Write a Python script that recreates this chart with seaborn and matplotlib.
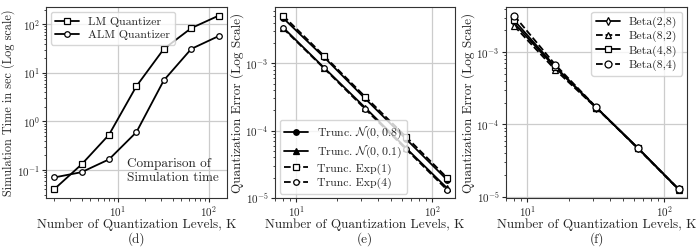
import numpy as np
import matplotlib
matplotlib.use('Agg')
import matplotlib.pyplot as plt
import seaborn as sns

# данные
k_time = [2, 4, 8, 16, 32, 64, 128]
lm_time = [0.04, 0.13, 0.53, 5.3, 31, 83, 150]
alm_time = [0.07, 0.09, 0.165, 0.6, 7.0, 31, 57]

k_err = [8, 16, 32, 64, 128]
norm_08 = [4.7e-3, 1.23e-3, 3.0e-4, 7.5e-5, 1.86e-5]
norm_01 = [3.4e-3, 8.6e-4, 2.2e-4, 5.5e-5, 1.40e-5]
exp_1 = [5.1e-3, 1.29e-3, 3.2e-4, 8.1e-5, 2.0e-5]
exp_4 = [3.3e-3, 8.4e-4, 2.1e-4, 5.3e-5, 1.32e-5]

beta_28 = [2.5e-3, 6.1e-4, 1.70e-4, 4.75e-5, 1.26e-5]
beta_82 = [2.3e-3, 5.7e-4, 1.68e-4, 4.7e-5, 1.25e-5]
beta_48 = [2.75e-3, 6.3e-4, 1.71e-4, 4.8e-5, 1.27e-5]
beta_84 = [3.2e-3, 6.7e-4, 1.72e-4, 4.7e-5, 1.28e-5]

sns.set_style('ticks')
plt.rcParams['font.family'] = 'serif'
plt.rcParams['font.serif'] = ['cmr10', 'DejaVu Serif']
plt.rcParams['mathtext.fontset'] = 'cm'
plt.rcParams['axes.formatter.use_mathtext'] = True
plt.rcParams['axes.unicode_minus'] = False

fig = plt.figure(figsize=(6.96, 2.49), dpi=100)
ax_d = fig.add_axes([0.066, 0.205, 0.260, 0.767])
ax_e = fig.add_axes([0.395, 0.203, 0.259, 0.769])
ax_f = fig.add_axes([0.727, 0.203, 0.260, 0.769])

label_fs = 9.5
tick_fs = 8
leg_fs = 8.5


def draw(ax, x, y, label, marker, ls, filled=False, ms=4):
    sns.lineplot(x=x, y=y, ax=ax, color='k', lw=1.3, ls=ls, marker=marker,
                 markersize=ms, markerfacecolor='k' if filled else 'white',
                 markeredgecolor='k', markeredgewidth=0.9, label=label)


def style(ax, ylabel, yfs=label_fs):
    ax.set_xscale('log')
    ax.set_yscale('log')
    ax.grid(True, which='major', color='#cccccc', lw=0.9)
    ax.set_axisbelow(True)
    ax.set_xlabel('Number of Quantization Levels, K', fontsize=label_fs, labelpad=-0.5)
    ax.set_ylabel(ylabel, fontsize=yfs, labelpad=1)
    ax.tick_params(labelsize=tick_fs, length=3, width=0.8, pad=1.5)
    ax.tick_params(which='minor', length=1.8, width=0.6)
    for s in ax.spines.values():
        s.set_color('#333333')
        s.set_linewidth(0.8)


# (d) время симуляции
draw(ax_d, k_time, lm_time, 'LM Quantizer', 's', '-')
draw(ax_d, k_time, alm_time, 'ALM Quantizer', 'o', '-')
style(ax_d, 'Simulation Time in sec (Log scale)', yfs=8.8)
ax_d.text(0.45, 0.14, 'Comparison of\nSimulation time', transform=ax_d.transAxes,
          fontsize=label_fs, va='center', ha='left', linespacing=1.2)
ax_d.legend(loc='upper left', fontsize=leg_fs, handlelength=2.0,
            borderaxespad=0.4, labelspacing=0.25)

# (e) ошибка квантования
draw(ax_e, k_err, norm_08, r'Trunc. $\mathcal{N}(0,0.8)$', 'o', '-', filled=True)
draw(ax_e, k_err, norm_01, r'Trunc. $\mathcal{N}(0,0.1)$', '^', '-', filled=True)
draw(ax_e, k_err, exp_1, 'Trunc. Exp(1)', 's', '--')
draw(ax_e, k_err, exp_4, 'Trunc. Exp(4)', 'o', '--')
style(ax_e, 'Quantization Error (Log Scale)')
ax_e.legend(loc='lower left', fontsize=leg_fs, handlelength=2.0,
            borderaxespad=0.4, labelspacing=0.25)

# (f) бета-распределения
draw(ax_f, k_err, beta_28, 'Beta(2,8)', 'd', '-')
draw(ax_f, k_err, beta_82, 'Beta(8,2)', '^', '--')
draw(ax_f, k_err, beta_48, 'Beta(4,8)', 's', '-', ms=5)
draw(ax_f, k_err, beta_84, 'Beta(8,4)', 'o', '--', ms=5)
style(ax_f, 'Quantization Error (Log Scale)')
ax_f.legend(loc='upper right', fontsize=leg_fs, handlelength=2.0,
            borderaxespad=0.4, labelspacing=0.25)

for ax, lab in [(ax_d, '(d)'), (ax_e, '(e)'), (ax_f, '(f)')]:
    pos = ax.get_position()
    fig.text(pos.x0 + pos.width / 2, 0.038, lab, ha='center', va='center',
             fontsize=label_fs)

fig.savefig('out.png', dpi=100)
